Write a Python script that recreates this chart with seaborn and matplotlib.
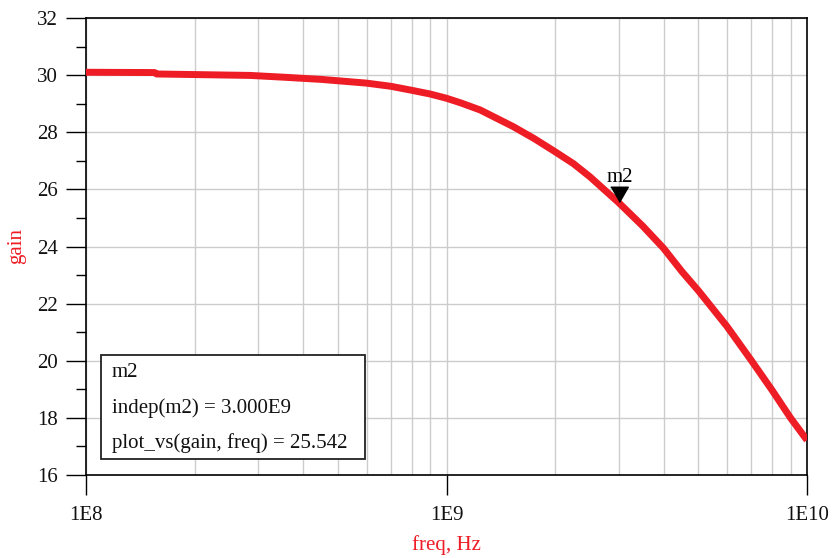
import pandas as pd
import matplotlib
matplotlib.use("Agg")
import matplotlib.pyplot as plt
import seaborn as sns
from matplotlib.patches import Rectangle
from matplotlib.ticker import LogLocator, FixedLocator, NullFormatter

# valores
freq = [1.0e8, 1.55e8, 1.57e8, 2.85e8, 3.5e8, 4.5e8, 6.0e8, 7.0e8, 8.0e8, 9.0e8,
        1.0e9, 1.1e9, 1.24e9, 1.53e9, 1.75e9, 2.0e9, 2.25e9, 2.5e9, 2.75e9,
        3.0e9, 3.5e9, 4.0e9, 4.5e9, 5.0e9, 6.0e9, 7.0e9, 8.0e9, 9.0e9, 1.0e10]
gain = [30.10, 30.09, 30.04, 29.99, 29.93, 29.85, 29.72, 29.61, 29.47, 29.34,
        29.19, 29.02, 28.78, 28.2, 27.78, 27.32, 26.9, 26.44, 25.97,
        25.542, 24.72, 23.94, 23.12, 22.45, 21.2, 20.02, 18.97, 18.0, 17.22]

marker_name = "m2"
marker_freq = 3.0e9
marker_gain = 25.542
box_lines = ["m2", "indep(m2) = 3.000E9", "plot_vs(gain, freq) = 25.542"]

x_ticks = [1e8, 1e9, 1e10]
x_labels = ["1E8", "1E9", "1E10"]
y_ticks = list(range(16, 33, 2))
y_minor = list(range(17, 32, 2))

df = pd.DataFrame({"freq": freq, "gain": gain})

sns.set_style("white")
plt.rcParams["font.family"] = ["Liberation Serif", "DejaVu Serif"]

red = "#ee1c25"
fig = plt.figure(figsize=(8.32, 5.58), dpi=100)
ax = fig.add_axes([86 / 832, 1 - 475 / 558, 721 / 832, 457 / 558])

ax.set_xscale("log")
sns.lineplot(data=df, x="freq", y="gain", ax=ax, color=red, linewidth=5,
             solid_capstyle="butt", zorder=3)

ax.set_xlim(1e8, 1e10)
ax.set_ylim(16, 32)

# ticks
ax.xaxis.set_major_locator(FixedLocator(x_ticks))
ax.set_xticklabels(x_labels)
ax.xaxis.set_minor_locator(LogLocator(base=10, subs=range(2, 10)))
ax.xaxis.set_minor_formatter(NullFormatter())
ax.yaxis.set_major_locator(FixedLocator(y_ticks))
ax.set_yticklabels([str(v) for v in y_ticks])
ax.yaxis.set_minor_locator(FixedLocator(y_minor))

ax.tick_params(axis="both", which="major", direction="out", length=14.4,
               width=1, color="black", labelsize=15, labelcolor="#111111",
               pad=6, left=True, bottom=True)
ax.tick_params(axis="x", which="major", pad=8)
ax.tick_params(axis="y", which="minor", direction="out", length=7.2,
               width=1, color="black", left=True)
ax.tick_params(axis="x", which="minor", length=0, bottom=False)

# rejilla
ax.grid(True, axis="y", which="major", color="#cccccc", linewidth=1)
ax.grid(True, axis="x", which="both", color="#cccccc", linewidth=1)
ax.set_axisbelow(True)

for s in ax.spines.values():
    s.set_visible(True)
    s.set_color("black")
    s.set_linewidth(1.2)

ax.set_xlabel("freq, Hz", color=red, fontsize=15, labelpad=7)
ax.set_ylabel("gain", color=red, fontsize=15, labelpad=8)

# marcador m2
tri = [(-1.15, 2.0), (1.15, 2.0), (0.0, 0.0)]
ax.plot([marker_freq], [marker_gain], marker=tri, markersize=22,
        color="black", linestyle="none", zorder=5)
ax.annotate(marker_name, (marker_freq, marker_gain), xytext=(1, 18),
            textcoords="offset points", ha="center", va="center",
            fontsize=15, color="black", zorder=6)

# cuadro del marcador
ax.add_patch(Rectangle((0.0208, 0.035), 0.366, 0.2276, transform=ax.transAxes,
                       facecolor="white", edgecolor="#222222", linewidth=1.3,
                       zorder=7))
for txt, yy in zip(box_lines, [0.2232, 0.1466, 0.070]):
    ax.text(0.036, yy, txt, transform=ax.transAxes, ha="left", va="center",
            fontsize=15, color="#111111", zorder=8)

plt.savefig("out.png", dpi=100)
